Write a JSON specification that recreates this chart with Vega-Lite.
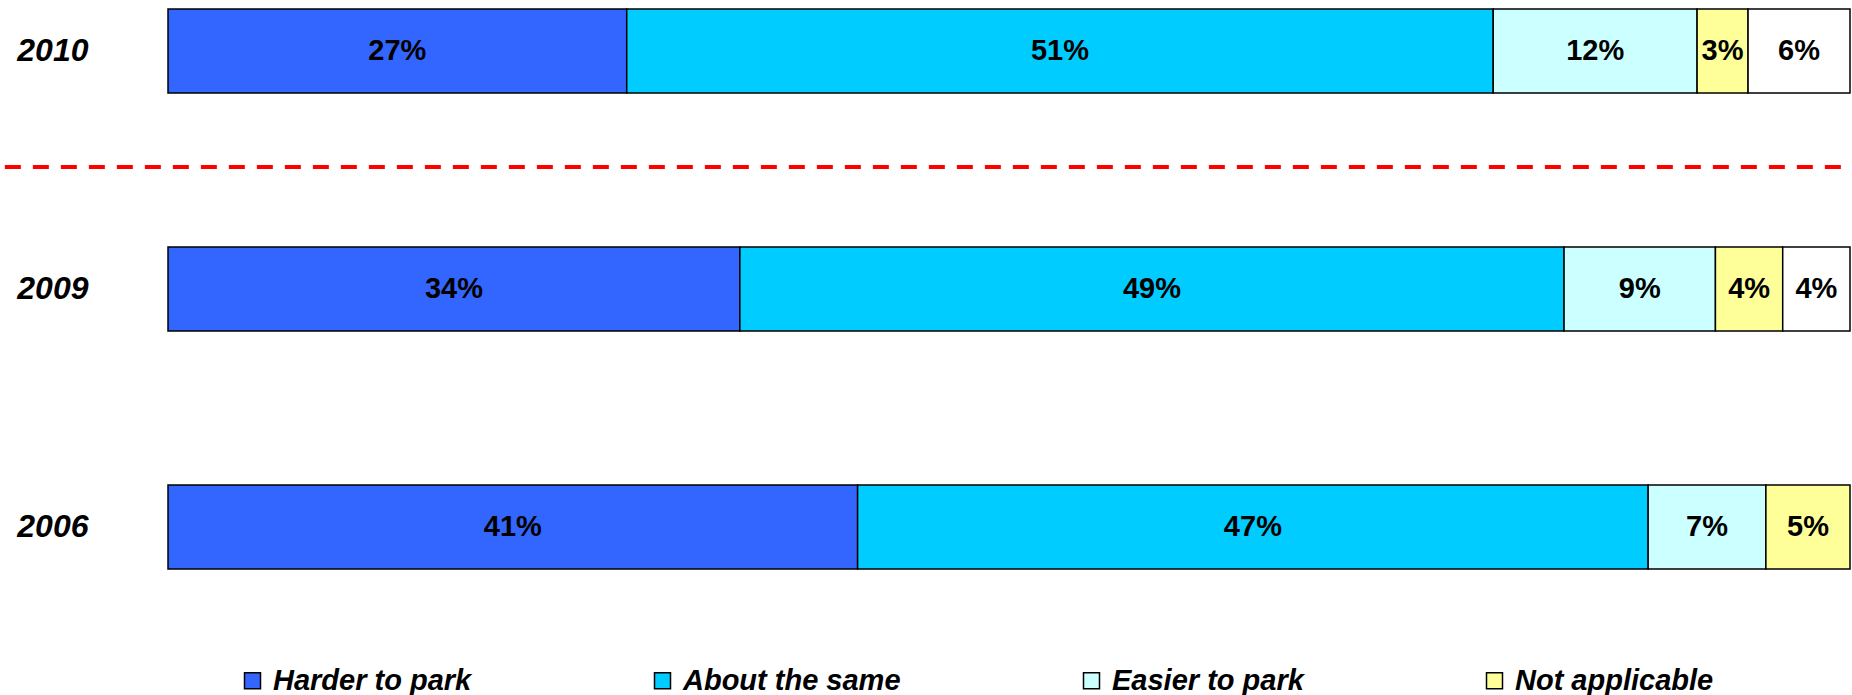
{
  "$schema": "https://vega.github.io/schema/vega-lite/v6.json",
  "autosize": {"type": "none"},
  "padding": {"left": 168, "top": 9, "right": 2, "bottom": 126},
  "width": 1682,
  "height": 560,
  "background": "white",
  "config": {"view": {"stroke": null}, "font": "Liberation Sans"},
  "datasets": {
    "bars": [
      {"year": "2010", "response": "Harder to park", "k": 1, "pct": 27, "label": "27%"},
      {"year": "2010", "response": "About the same", "k": 2, "pct": 51, "label": "51%"},
      {"year": "2010", "response": "Easier to park", "k": 3, "pct": 12, "label": "12%"},
      {"year": "2010", "response": "Not applicable", "k": 4, "pct": 3, "label": "3%"},
      {"year": "2010", "response": "Don't know", "k": 5, "pct": 6, "label": "6%"},
      {"year": "2009", "response": "Harder to park", "k": 1, "pct": 34, "label": "34%"},
      {"year": "2009", "response": "About the same", "k": 2, "pct": 49, "label": "49%"},
      {"year": "2009", "response": "Easier to park", "k": 3, "pct": 9, "label": "9%"},
      {"year": "2009", "response": "Not applicable", "k": 4, "pct": 4, "label": "4%"},
      {"year": "2009", "response": "Don't know", "k": 5, "pct": 4, "label": "4%"},
      {"year": "2006", "response": "Harder to park", "k": 1, "pct": 41, "label": "41%"},
      {"year": "2006", "response": "About the same", "k": 2, "pct": 47, "label": "47%"},
      {"year": "2006", "response": "Easier to park", "k": 3, "pct": 7, "label": "7%"},
      {"year": "2006", "response": "Not applicable", "k": 4, "pct": 5, "label": "5%"}
    ],
    "divider": [{"year": "2010", "x0": -0.097, "x1": 0.997}]
  },
  "layer": [
    {
      "data": {"name": "bars"},
      "mark": {"type": "bar", "stroke": "black", "strokeWidth": 1.5},
      "encoding": {
        "y": {
          "field": "year", "type": "nominal", "sort": ["2010", "2009", "2006"],
          "scale": {"paddingInner": 0.647, "paddingOuter": 0},
          "axis": {"title": null, "domain": false, "ticks": false, "labelFont": "Liberation Sans", "labelFontSize": 32, "labelFontWeight": "bold", "labelFontStyle": "italic", "labelColor": "black", "labelPadding": 80, "labelAlign": "right"}
        },
        "x": {"field": "pct", "type": "quantitative", "stack": "normalize", "scale": {"domain": [0, 1]}, "axis": null},
        "color": {
          "field": "response", "type": "nominal",
          "scale": {
            "domain": ["Harder to park", "About the same", "Easier to park", "Not applicable", "Don't know"],
            "range": ["#3366FF", "#00CCFF", "#CCFFFF", "#FFFF99", "#FFFFFF"]
          },
          "legend": {
            "orient": "none", "legendX": 70, "legendY": 657, "direction": "horizontal", "title": null,
            "values": ["Harder to park", "About the same", "Easier to park", "Not applicable"],
            "symbolType": "square", "symbolSize": 256, "symbolStrokeColor": "black", "symbolStrokeWidth": 1.5,
            "labelFont": "Liberation Sans", "labelFontSize": 29, "labelFontWeight": "bold", "labelFontStyle": "italic",
            "labelColor": "black", "labelLimit": 500, "labelOffset": 6, "columnPadding": 176
          }
        },
        "order": {"field": "k"}
      }
    },
    {
      "data": {"name": "bars"},
      "mark": {"type": "text", "font": "Liberation Sans", "fontSize": 29, "fontWeight": "bold", "color": "black"},
      "encoding": {
        "y": {"field": "year", "type": "nominal", "sort": ["2010", "2009", "2006"]},
        "x": {"field": "pct", "type": "quantitative", "stack": "normalize", "bandPosition": 0.5},
        "detail": {"field": "response"},
        "text": {"field": "label"},
        "order": {"field": "k"}
      }
    },
    {
      "data": {"name": "divider"},
      "mark": {"type": "rule", "color": "#FF0000", "strokeWidth": 4, "strokeDash": [16, 12]},
      "encoding": {
        "y": {"field": "year", "type": "nominal", "sort": ["2010", "2009", "2006"], "bandPosition": 1.88},
        "x": {"field": "x0", "type": "quantitative"},
        "x2": {"field": "x1"}
      }
    }
  ]
}
